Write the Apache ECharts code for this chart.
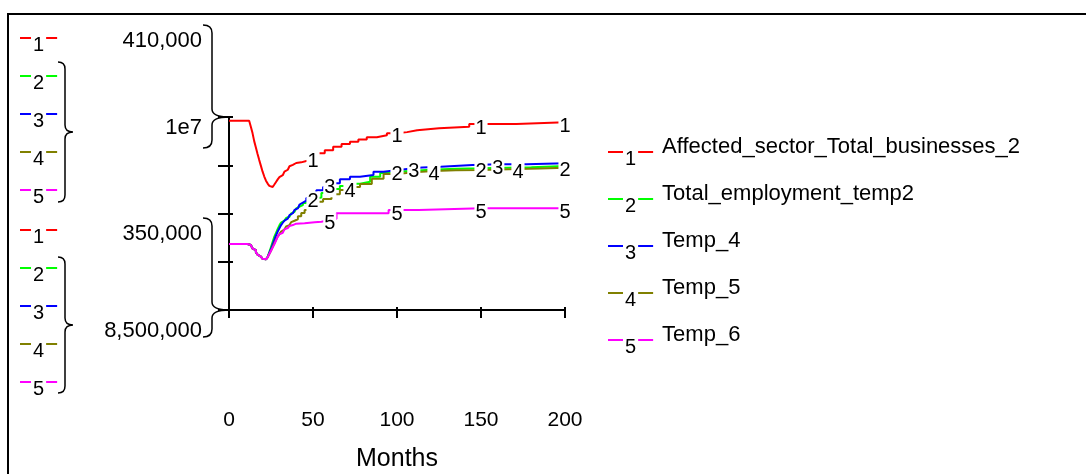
<!DOCTYPE html>
<html>
<head>
<meta charset="utf-8">
<script src="https://cdn.jsdelivr.net/npm/echarts@6/dist/echarts.min.js"></script>
<style>
  html, body { margin: 0; padding: 0; background: #fff; }
  #chart { width: 1086px; height: 474px; }
</style>
</head>
<body>
<div id="chart"></div>
<script>
// series names and colours (Stella style)
const seriesNames = ['Affected_sector_Total_businesses_2', 'Total_employment_temp2', 'Temp_4', 'Temp_5', 'Temp_6']
const seriesColors = ['#ff0000', '#00ff00', '#0000ff', '#808000', '#ff00ff']

// x axis
const monthTicks = [0, 50, 100, 150, 200]

// scale for series 1 and scale for series 2-5
const scale1Ticks = [350000, 365000, 380000, 395000, 410000]
const scale1Labels = ['350,000', '410,000']
const scale2Ticks = [8500000, 8875000, 9250000, 9625000, 10000000]
const scale2Labels = ['8,500,000', '1e7']

// 1: Affected_sector_Total_businesses_2
const months1 = [0, 12, 13, 14, 15, 16, 17, 18, 19, 20, 21, 22, 23, 24, 25, 26, 27, 28, 29, 30, 31, 32, 33, 34, 35, 36, 37, 38, 39, 40, 43, 46, 50, 53, 57, 62, 67, 72, 77, 82, 88, 94, 100, 106, 112, 125, 143, 150, 171, 200]
const values1 = [408850, 408850, 407000, 405000, 402500, 400500, 398500, 396600, 394800, 393000, 391500, 390200, 389300, 388600, 388240, 388240, 389000, 389800, 390600, 391300, 391900, 392500, 393000, 393600, 394200, 394700, 395100, 395400, 395700, 395900, 396300, 396600, 397300, 398700, 399700, 400770, 401600, 402320, 403000, 403690, 404300, 404930, 405300, 405900, 406490, 406980, 407820, 407820, 408350, 408450]
const labels1 = [50, 100, 150, 200]

// 2: Total_employment_temp2
const months2 = [0, 11, 12, 13, 14, 15, 16, 17, 18, 19, 20, 21, 22, 23, 24, 25, 26, 27, 28, 29, 30, 31, 32, 33, 34, 35, 36, 37, 38, 39, 40, 41, 42, 44, 46, 48, 50, 55, 60, 66, 72, 78, 84, 90, 95, 100, 110, 120, 135, 150, 165, 180, 200]
const values2 = [9013000, 9013000, 9005000, 8990000, 8978000, 8966000, 8948000, 8930000, 8915000, 8905000, 8898000, 8894000, 8900000, 8912000, 8950000, 8990000, 9030000, 9070000, 9100000, 9130000, 9158000, 9180000, 9195000, 9205000, 9215000, 9225000, 9238000, 9250000, 9263000, 9277000, 9290000, 9303000, 9316000, 9332000, 9348000, 9362000, 9375000, 9409000, 9440000, 9464000, 9482000, 9497000, 9535000, 9565000, 9575000, 9582000, 9590000, 9598000, 9601000, 9606000, 9610000, 9619000, 9619000]
const labels2 = [50, 100, 150, 200]

// 3: Temp_4
const months3 = [0, 11, 12, 13, 14, 15, 16, 17, 18, 19, 20, 21, 22, 23, 24, 25, 26, 27, 28, 29, 30, 31, 32, 33, 34, 35, 36, 37, 38, 39, 40, 41, 42, 43, 44, 46, 48, 50, 52, 56, 60, 66, 72, 78, 86, 92, 102, 110, 115, 126, 145, 160, 177, 200]
const values3 = [9013000, 9013000, 9005000, 8990000, 8978000, 8966000, 8948000, 8930000, 8915000, 8905000, 8898000, 8894000, 8900000, 8912000, 8945000, 8975000, 9010000, 9045000, 9080000, 9110000, 9135000, 9160000, 9178000, 9195000, 9210000, 9222000, 9237000, 9252000, 9265000, 9278000, 9290000, 9305000, 9320000, 9335000, 9350000, 9370000, 9390000, 9410000, 9430000, 9456000, 9485000, 9516000, 9535000, 9549000, 9575000, 9590000, 9601000, 9607000, 9614000, 9627000, 9632000, 9632000, 9640000, 9640000]
const labels3 = [60, 110, 160]

// 4: Temp_5
const months4 = [0, 11, 12, 13, 14, 15, 16, 17, 18, 19, 20, 21, 22, 23, 24, 25, 26, 27, 28, 29, 30, 31, 32, 33, 34, 35, 36, 37, 38, 39, 41, 43, 45, 47, 50, 53, 56, 61, 66, 72, 78, 85, 92, 100, 110, 122, 135, 150, 172, 185, 200]
const values4 = [9013000, 9013000, 9005000, 8990000, 8978000, 8966000, 8948000, 8930000, 8915000, 8905000, 8898000, 8894000, 8900000, 8910000, 8935000, 8960000, 8990000, 9020000, 9045000, 9070000, 9090000, 9110000, 9125000, 9140000, 9150000, 9160000, 9172000, 9183000, 9194000, 9205000, 9229000, 9253000, 9277000, 9295000, 9320000, 9342000, 9362000, 9400000, 9432000, 9455000, 9479000, 9520000, 9557000, 9570000, 9580000, 9586000, 9588000, 9595000, 9600000, 9606000, 9606000]
const labels4 = [72, 122, 172]

// 5: Temp_6
const months5 = [0, 11, 12, 13, 14, 15, 16, 17, 18, 19, 20, 21, 22, 23, 24, 25, 26, 27, 28, 29, 30, 31, 32, 33, 34, 35, 36, 37, 38, 39, 40, 45, 51, 55, 60, 62, 64, 95, 100, 113, 150, 200]
const values5 = [9013000, 9013000, 9005000, 8990000, 8978000, 8966000, 8948000, 8930000, 8915000, 8905000, 8898000, 8894000, 8900000, 8910000, 8935000, 8960000, 8985000, 9010000, 9040000, 9070000, 9088000, 9100000, 9115000, 9127000, 9137000, 9145000, 9153000, 9160000, 9166000, 9171000, 9175000, 9182000, 9186000, 9199000, 9205000, 9210000, 9252000, 9277000, 9277000, 9290000, 9290000, 9290000]
const labels5 = [60, 100, 150, 200]

const allMonths = [months1, months2, months3, months4, months5]
const allValues = [values1, values2, values3, values4, values5]
const allLabels = [labels1, labels2, labels3, labels4, labels5]

const FONT = 'Liberation Sans'

// curly brace "}" used by the scale indicators
echarts.graphic.registerShape('brace', echarts.graphic.extendShape({
  shape: { xArm: 0, xSpine: 0, xTip: 0, yTop: 0, yTip: 0, yBot: 0, r: 6 },
  buildPath: function (ctx, s) {
    ctx.moveTo(s.xArm, s.yTop)
    ctx.quadraticCurveTo(s.xSpine, s.yTop, s.xSpine, s.yTop + s.r)
    ctx.lineTo(s.xSpine, s.yTip - s.r)
    ctx.quadraticCurveTo(s.xSpine, s.yTip, s.xTip, s.yTip)
    ctx.quadraticCurveTo(s.xSpine, s.yTip, s.xSpine, s.yTip + s.r)
    ctx.lineTo(s.xSpine, s.yBot - s.r)
    ctx.quadraticCurveTo(s.xSpine, s.yBot, s.xArm, s.yBot)
  }
}))

function makeSeries(i) {
  const data = allMonths[i].map((m, k) => {
    const v = allValues[i][k]
    if (allLabels[i].indexOf(m) >= 0) {
      return {
        value: [m, v],
        symbol: 'circle',
        symbolSize: 2,
        itemStyle: { color: 'transparent' },
        label: { show: true }
      }
    }
    return [m, v]
  })
  return {
    name: seriesNames[i],
    type: 'line',
    yAxisIndex: i === 0 ? 0 : 1,
    step: 'end',
    symbol: 'none',
    showSymbol: true,
    color: seriesColors[i],
    lineStyle: { width: 2, color: seriesColors[i] },
    label: {
      position: 'inside',
      offset: [0, 4],
      formatter: String(i + 1),
      color: '#000',
      fontFamily: FONT,
      fontSize: 20,
      backgroundColor: '#fff',
      padding: [0, 1]
    },
    emphasis: { disabled: true },
    data: data
  }
}

// rich styles for the "-1-" style legend keys
const rich = {
  n: { fontFamily: FONT, fontSize: 20, lineHeight: 20, color: '#000', padding: [14, 2, 0, 2] },
  t: { fontFamily: FONT, fontSize: 22, lineHeight: 22, color: '#000', padding: [0, 0, 10, 9] }
}
seriesColors.forEach((c, i) => {
  rich['s' + i] = { width: 15, height: 2, backgroundColor: c }
  rich['k' + i] = { width: 11, height: 2, backgroundColor: c }
})

function keyLegend(top) {
  return {
    orient: 'vertical',
    left: 10,
    top: top,
    icon: 'none',
    itemWidth: 0,
    itemHeight: 2,
    itemGap: 4,
    data: seriesNames,
    formatter: (name) => {
      const i = seriesNames.indexOf(name)
      return '{k' + i + '|}{n|' + (i + 1) + '}{k' + i + '|}'
    },
    textStyle: { rich: rich }
  }
}

const braceStyle = { stroke: '#000', lineWidth: 1.5, fill: null }

const option = {
  animation: false,
  backgroundColor: '#fff',
  textStyle: { fontFamily: FONT },
  grid: { left: 229, top: 117, width: 336, height: 193, containLabel: false },
  legend: [
    keyLegend(16),
    keyLegend(208),
    {
      orient: 'vertical',
      left: 598,
      top: 130,
      icon: 'none',
      itemWidth: 0,
      itemHeight: 2,
      itemGap: 13,
      data: seriesNames,
      formatter: (name) => {
        const i = seriesNames.indexOf(name)
        return '{s' + i + '|}{n|' + (i + 1) + '}{s' + i + '|}{t|' + name + '}'
      },
      textStyle: { rich: rich }
    }
  ],
  xAxis: [{
    type: 'value',
    min: monthTicks[0],
    max: monthTicks[monthTicks.length - 1],
    interval: 50,
    name: 'Months',
    nameLocation: 'middle',
    nameGap: 137,
    nameTextStyle: { fontFamily: FONT, fontSize: 25, color: '#000' },
    axisLine: { lineStyle: { color: '#000', width: 2 } },
    axisTick: { length: 8, lineStyle: { color: '#000', width: 2 } },
    axisLabel: { margin: 100, fontFamily: FONT, fontSize: 21, color: '#000' },
    splitLine: { show: false }
  }, {
    type: 'value',
    position: 'bottom',
    min: monthTicks[0],
    max: monthTicks[monthTicks.length - 1],
    interval: 50,
    axisLine: { show: false },
    axisTick: { inside: true, length: 3, lineStyle: { color: '#000', width: 2 } },
    axisLabel: { show: false },
    splitLine: { show: false }
  }],
  yAxis: [{
    type: 'value',
    position: 'left',
    min: scale1Ticks[0],
    max: scale1Ticks[scale1Ticks.length - 1],
    axisLine: { show: true, lineStyle: { color: '#000', width: 2 } },
    axisTick: { show: true, length: 11, customValues: scale1Ticks, lineStyle: { color: '#000', width: 2 } },
    axisLabel: {
      margin: 27,
      customValues: [scale1Ticks[0], scale1Ticks[4]],
      formatter: (v) => '{u|' + (v === scale1Ticks[4] ? scale1Labels[1] : scale1Labels[0]) + '}',
      rich: { u: { fontFamily: FONT, fontSize: 22, lineHeight: 22, color: '#000', padding: [0, 0, 152, 0] } }
    },
    splitLine: { show: false }
  }, {
    type: 'value',
    position: 'left',
    offset: 0,
    min: scale2Ticks[0],
    max: scale2Ticks[scale2Ticks.length - 1],
    axisLine: { show: false },
    axisTick: { show: true, inside: true, length: 4, customValues: scale2Ticks, lineStyle: { color: '#000', width: 2 } },
    axisLabel: {
      margin: 27,
      customValues: [scale2Ticks[0], scale2Ticks[4]],
      formatter: (v) => v === scale2Ticks[4] ? '{a|' + scale2Labels[1] + '}' : '{b|' + scale2Labels[0] + '}',
      rich: {
        a: { fontFamily: FONT, fontSize: 22, lineHeight: 22, color: '#000', padding: [22, 0, 0, 0] },
        b: { fontFamily: FONT, fontSize: 22, lineHeight: 22, color: '#000', padding: [41, 0, 0, 0] }
      }
    },
    splitLine: { show: false }
  }],
  graphic: [
    { type: 'rect', silent: true, shape: { x: 8, y: 14, width: 1100, height: 500 }, style: { stroke: '#000', lineWidth: 2, fill: null } },
    { type: 'brace', silent: true, shape: { xArm: 203, xSpine: 212, xTip: 229, yTop: 25, yTip: 117, yBot: 148, r: 8 }, style: braceStyle },
    { type: 'brace', silent: true, shape: { xArm: 203, xSpine: 212, xTip: 229, yTop: 218, yTip: 310, yBot: 337, r: 8 }, style: braceStyle },
    { type: 'brace', silent: true, shape: { xArm: 58, xSpine: 65, xTip: 73, yTop: 62, yTip: 132, yBot: 202, r: 7 }, style: braceStyle },
    { type: 'brace', silent: true, shape: { xArm: 58, xSpine: 65, xTip: 73, yTop: 257, yTip: 325, yBot: 393, r: 7 }, style: braceStyle }
  ],
  series: [0, 1, 2, 3, 4].map(makeSeries)
}

const myChart = echarts.init(document.getElementById('chart'), null, { renderer: 'canvas' })
myChart.setOption(option)
</script>
</body>
</html>
